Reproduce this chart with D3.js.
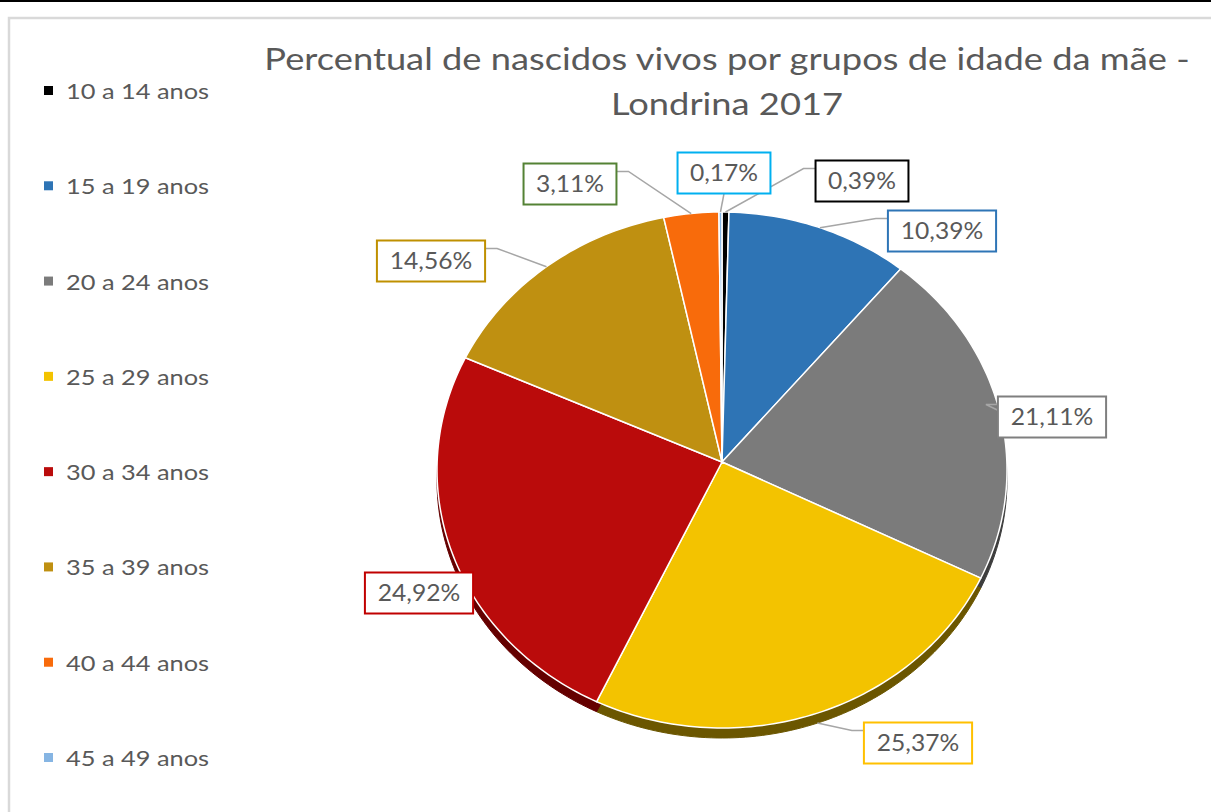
<!DOCTYPE html>
<html>
<head>
<meta charset="utf-8">
<script src="https://cdn.jsdelivr.net/npm/d3@7"></script>
<style>
  body { margin: 0; background: #fff; }
  text { font-family: Lato, "Open Sans", sans-serif; }
</style>
</head>
<body>
<script>
// data
var groups = ["10 a 14 anos", "15 a 19 anos", "20 a 24 anos", "25 a 29 anos",
              "30 a 34 anos", "35 a 39 anos", "40 a 44 anos", "45 a 49 anos"];
var percents = [0.39, 10.39, 21.11, 25.37, 24.92, 14.56, 3.11, 0.17];
var percentLabels = ["0,39%", "10,39%", "21,11%", "25,37%", "24,92%", "14,56%", "3,11%", "0,17%"];

// styling
var sliceColors = ["#000000", "#2e74b5", "#7b7b7b", "#f3c300", "#ba0b0b", "#bf9011", "#f86b0b", "#86b5e3"];
var sideColors  = ["#000000", "#173a5b", "#3d3d3d", "#6b5600", "#650000", "#5f4808", "#7c3505", "#43597a"];
var labelBorder = ["#000000", "#2e75b6", "#7f7f7f", "#ffc000", "#c00000", "#bf9000", "#548235", "#00b0f0"];
// label box centre positions (layout), leader side: +1 box right of anchor, -1 left
var labelPos = [[862, 181, 1], [942, 231, 1], [1052, 417, 1], [918, 743, 1],
                [419, 593, 0], [431, 261, -1], [570, 184, -1], [724, 173, 0]];

var W = 1211, H = 812;
var cx = 722, cy = 470, rx = 285, ry = 258, apexY = 462, depth = 10;

var svg = d3.select("body").append("svg")
    .attr("width", W).attr("height", H);

// stretch text horizontally (the original font is wider than Lato)
function stretch(sel, k) {
  sel.each(function() {
    var len = this.getComputedTextLength();
    d3.select(this).attr("textLength", len * k).attr("lengthAdjust", "spacingAndGlyphs");
  });
}

// top black line and chart frame
svg.append("rect").attr("x", 0).attr("y", 0).attr("width", W).attr("height", 2).attr("fill", "#000");
svg.append("rect").attr("x", 9).attr("y", 18).attr("width", W + 10).attr("height", H)
    .attr("fill", "#fff").attr("stroke", "#d9d9d9").attr("stroke-width", 2.5);

// title
var titleLines = ["Percentual de nascidos vivos por grupos de idade da mãe -", "Londrina 2017"];
svg.selectAll("text.title").data(titleLines).enter().append("text")
    .attr("class", "title")
    .attr("x", 727).attr("y", function(d, i) { return 70 + i * 45; })
    .attr("text-anchor", "middle").attr("fill", "#595959").attr("font-size", 31)
    .text(function(d) { return d; })
    .call(stretch, 1.17);

// legend
var legendY = d3.scalePoint().domain(groups).range([91, 758]);
var leg = svg.selectAll("g.leg").data(groups).enter().append("g")
    .attr("transform", function(d) { return "translate(0," + legendY(d) + ")"; });
leg.append("rect").attr("x", 44).attr("y", -5).attr("width", 9).attr("height", 9)
    .attr("fill", function(d, i) { return sliceColors[i]; });
leg.append("text").attr("x", 66).attr("y", 8).attr("fill", "#595959").attr("font-size", 21.5)
    .text(function(d) { return d; })
    .call(stretch, 1.18);

// pie layout
var pie = d3.pie().sort(null).value(function(d) { return d; });
var arcs = pie(percents);

function ellPoint(a, dy) {
  return [cx + rx * Math.sin(a), cy + dy - ry * Math.cos(a)];
}
function slicePath(d, dy) {
  var n = Math.max(2, Math.ceil((d.endAngle - d.startAngle) / 0.02));
  var p = d3.path();
  p.moveTo(cx, apexY + dy);
  for (var k = 0; k <= n; k++) {
    var a = d.startAngle + (d.endAngle - d.startAngle) * k / n;
    var pt = ellPoint(a, dy);
    p.lineTo(pt[0], pt[1]);
  }
  p.closePath();
  return p.toString();
}

// side (depth) layer
svg.append("g").selectAll("path").data(arcs).enter().append("path")
    .attr("d", function(d) { return slicePath(d, depth); })
    .attr("fill", function(d, i) { return sideColors[i]; })
    .attr("stroke", function(d, i) { return sideColors[i]; }).attr("stroke-width", 1);

// top face
svg.append("g").selectAll("path").data(arcs).enter().append("path")
    .attr("d", function(d) { return slicePath(d, 0); })
    .attr("fill", function(d, i) { return sliceColors[i]; })
    .attr("stroke", "#fff").attr("stroke-width", 1.5).attr("stroke-linejoin", "round");

// labels
var lab = svg.append("g");
arcs.forEach(function(d, i) {
  var mid = (d.startAngle + d.endAngle) / 2;
  var anchor = ellPoint(mid, Math.cos(mid) < 0 ? depth : 0);
  var lp = labelPos[i];
  var txt = lab.append("text").attr("x", lp[0]).attr("y", lp[1] + 8)
      .attr("text-anchor", "middle").attr("font-size", 23).attr("fill", "#595959")
      .text(percentLabels[i])
      .call(stretch, 1.07);
  var bw = txt.node().getComputedTextLength() * 1.07 + 20, bh = 41;
  var bx = lp[0] - bw / 2, by = lp[1] - bh / 2;
  if (lp[2] !== 0) {
    var edgeX = lp[2] > 0 ? bx : bx + bw;
    var ey = by + 8;
    var elbowX = edgeX - lp[2] * 12;
    lab.insert("path", "text")
      .attr("d", "M" + anchor[0] + "," + anchor[1] + "L" + elbowX + "," + ey + "L" + edgeX + "," + ey)
      .attr("fill", "none").attr("stroke", "#a6a6a6").attr("stroke-width", 1.5);
  } else if (i === 7) {
    lab.insert("path", "text")
      .attr("d", "M" + anchor[0] + "," + anchor[1] + "L" + lp[0] + "," + (by + bh))
      .attr("fill", "none").attr("stroke", "#a6a6a6").attr("stroke-width", 1.5);
  }
  lab.insert("rect", "text").attr("x", bx).attr("y", by).attr("width", bw).attr("height", bh)
      .attr("fill", "#fff").attr("stroke", labelBorder[i]).attr("stroke-width", 2);
});
</script>
</body>
</html>
